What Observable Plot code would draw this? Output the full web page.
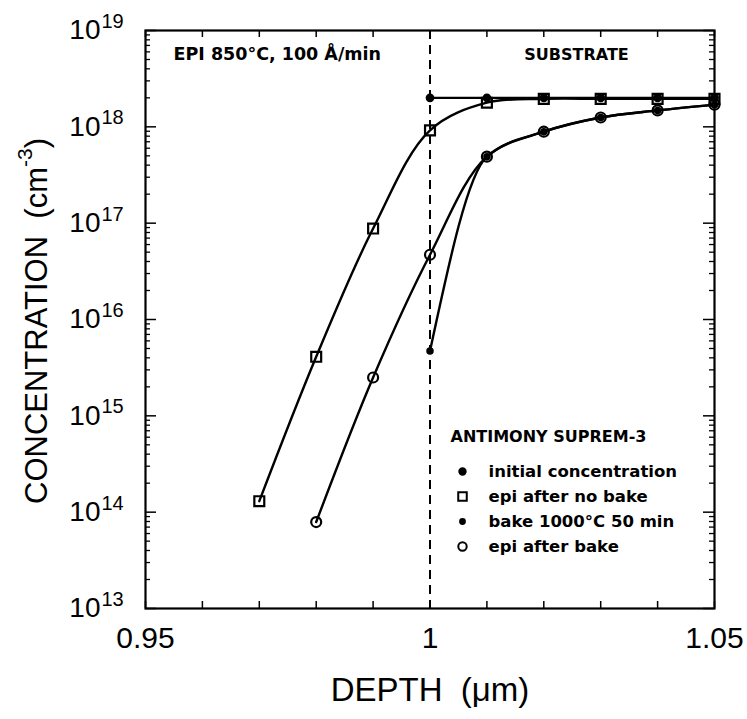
<!DOCTYPE html>
<html>
<head>
<meta charset="utf-8">
<script src="https://cdn.jsdelivr.net/npm/d3@7"></script>
<script src="https://cdn.jsdelivr.net/npm/@observablehq/plot@0.6"></script>
<style>
  body { margin: 0; background: #fff; }
  svg { display: block; }
</style>
</head>
<body>
<div id="chart"></div>
<script>
// Antimony profiles simulated with SUPREM-3 (depth in µm, concentration in cm^-3)
const initialDepth = [1.00, 1.01, 1.02, 1.03, 1.04, 1.05];
const initialConc  = [2.0e18, 2.0e18, 2.0e18, 2.0e18, 2.0e18, 2.0e18];

const noBakeDepth = [0.97, 0.98, 0.99, 1.00, 1.01, 1.02, 1.03, 1.04, 1.05];
const noBakeConc  = [1.3e14, 4.1e15, 8.8e16, 9.2e17, 1.78e18, 1.95e18, 1.95e18, 1.95e18, 1.95e18];

const bakeDepth = [1.00, 1.01, 1.02, 1.03, 1.04, 1.05];
const bakeConc  = [4.7e15, 4.9e17, 8.9e17, 1.25e18, 1.48e18, 1.7e18];

const afterBakeDepth = [0.98, 0.99, 1.00, 1.01, 1.02, 1.03, 1.04, 1.05];
const afterBakeConc  = [7.9e13, 2.5e15, 4.7e16, 4.9e17, 8.9e17, 1.25e18, 1.48e18, 1.7e18];

// Axis ticks and labels
const decades = [13, 14, 15, 16, 17, 18, 19];
const xTickLabels = [0.95, 1.00, 1.05];
const xMinorTicks = [0.95, 0.96, 0.97, 0.98, 0.99, 1.00, 1.01, 1.02, 1.03, 1.04, 1.05];
const interfaceDepth = 1.00;

const legendTitle = "ANTIMONY SUPREM-3";
const legendLabels = ["initial concentration", "epi after no bake", "bake 1000°C 50 min", "epi after bake"];
const epiLabel = "EPI 850°C, 100 Å/min";
const substrateLabel = "SUBSTRATE";

const zip = (xs, ys) => xs.map((x, i) => ({x, y: ys[i]}));
const initial = zip(initialDepth, initialConc);
const noBake = zip(noBakeDepth, noBakeConc);
const bake = zip(bakeDepth, bakeConc);
const afterBake = zip(afterBakeDepth, afterBakeConc);

const W = 747, H = 719;
const M = {top: 30, right: 33, bottom: 111, left: 145};
const plotW = W - M.left - M.right;
const plotH = H - M.top - M.bottom;

const majorY = decades.map(d => 10 ** d);
const minorY = decades.slice(0, -1).flatMap(d => d3.range(2, 10).map(k => k * 10 ** d));

const ink = "#000";
const inFont = "DejaVu Sans, sans-serif";
const axFont = "Liberation Sans, Arial, sans-serif";
const narrowFont = "Liberation Sans Narrow, Liberation Sans, sans-serif";

// legend symbols, one per row
const legendSymbols = [
  {symbol: "circle", r: 3.2, fill: ink},
  {symbol: "square", r: 4.8, fill: "none"},
  {symbol: "circle", r: 2.4, fill: ink},
  {symbol: "circle", r: 4.2, fill: "none"}
];
const rowGap = 25;
const firstRowDy = -137; // offset from the bottom of the frame

const legendMarks = legendLabels.flatMap((label, i) => {
  const dy = firstRowDy + rowGap * i;
  const s = legendSymbols[i];
  return [
    Plot.dot([label], {frameAnchor: "bottom-right", dx: -252, dy, symbol: s.symbol, r: s.r,
      fill: s.fill, stroke: ink, strokeWidth: 2}),
    Plot.text([label], {text: d => d, frameAnchor: "bottom-right", dx: -226, dy, textAnchor: "start",
      lineAnchor: "middle", fontFamily: inFont, fontWeight: "bold", fontSize: 16.5, fill: ink})
  ];
});

const chart = Plot.plot({
  width: W,
  height: H,
  marginTop: M.top,
  marginRight: M.right,
  marginBottom: M.bottom,
  marginLeft: M.left,
  style: {background: "#fff", color: ink},
  x: {domain: [0.95, 1.05]},
  y: {type: "log", domain: [1e13, 1e19]},
  marks: [
    // inward ticks on all four sides
    Plot.tickY(majorY, {y: d => d, stroke: ink, strokeWidth: 1.5, insetRight: plotW - 11}),
    Plot.tickY(minorY, {y: d => d, stroke: ink, strokeWidth: 1.3, insetRight: plotW - 5}),
    Plot.tickY(majorY, {y: d => d, stroke: ink, strokeWidth: 1.5, insetLeft: plotW - 11}),
    Plot.tickY(minorY, {y: d => d, stroke: ink, strokeWidth: 1.3, insetLeft: plotW - 5}),
    Plot.tickX(xMinorTicks, {x: d => d, stroke: ink, strokeWidth: 1.5, insetBottom: plotH - 7}),
    Plot.tickX(xMinorTicks, {x: d => d, stroke: ink, strokeWidth: 1.5, insetTop: plotH - 7}),

    // epi / substrate interface
    Plot.ruleX([interfaceDepth], {stroke: ink, strokeWidth: 2, strokeDasharray: "9,6"}),

    // profiles
    Plot.line(initial, {x: "x", y: "y", stroke: ink, strokeWidth: 2.4}),
    Plot.line(noBake, {x: "x", y: "y", stroke: ink, strokeWidth: 2.4, curve: "catmull-rom"}),
    Plot.line(bake, {x: "x", y: "y", stroke: ink, strokeWidth: 2.4, curve: "monotone-x"}),
    Plot.line(afterBake, {x: "x", y: "y", stroke: ink, strokeWidth: 2.4, curve: "catmull-rom"}),

    Plot.dot(initial, {x: "x", y: "y", r: 3.6, fill: ink, stroke: ink}),
    Plot.dot(noBake, {x: "x", y: "y", symbol: "square", r: 5.6, fill: "none", stroke: ink, strokeWidth: 2.2}),
    Plot.dot(bake, {x: "x", y: "y", r: 3, fill: ink, stroke: ink}),
    Plot.dot(afterBake, {x: "x", y: "y", r: 5, fill: "none", stroke: ink, strokeWidth: 2.2}),

    Plot.frame({stroke: ink, strokeWidth: 2.2}),

    // region labels
    Plot.text([epiLabel], {text: d => d, frameAnchor: "top-left", dx: 28, dy: 24, textAnchor: "start",
      lineAnchor: "middle", fontFamily: inFont, fontWeight: "bold", fontSize: 17.5, fill: ink,
      style: {letterSpacing: "0.7px"}}),
    Plot.text([substrateLabel], {text: d => d, frameAnchor: "top-right", dx: -138, dy: 24, textAnchor: "middle",
      lineAnchor: "middle", fontFamily: inFont, fontWeight: "bold", fontSize: 16, fill: ink}),

    // legend
    Plot.text([legendTitle], {text: d => d, frameAnchor: "bottom-right", dx: -264, dy: -172, textAnchor: "start",
      lineAnchor: "middle", fontFamily: inFont, fontWeight: "bold", fontSize: 16, fill: ink}),
    ...legendMarks,

    // axes
    Plot.axisX({anchor: "bottom", ticks: xTickLabels, tickSize: 0, tickPadding: 18,
      tickFormat: d => d === 1 ? "1" : d3.format(".2f")(d), fontSize: 30, label: null, fontFamily: axFont}),
    Plot.axisY({anchor: "left", ticks: majorY, tickSize: 0, tickPadding: 45,
      tickFormat: () => "10", fontSize: 28, label: null, fontFamily: narrowFont}),
    Plot.text(decades, {y: d => 10 ** d, text: d => String(d), frameAnchor: "left", dx: -44, dy: -9,
      textAnchor: "start", lineAnchor: "middle", fontSize: 20, fontFamily: narrowFont, fill: ink}),

    // x axis title
    Plot.text(["DEPTH  (μm)"], {text: d => d, frameAnchor: "bottom", dy: 82, lineAnchor: "middle",
      fontSize: 33, fontFamily: axFont, fill: ink})
  ]
});

// y axis title with superscript exponent
const svg = d3.select(chart);
const yTitle = svg.append("text")
  .attr("transform", `translate(36,${M.top + plotH / 2 + 2}) rotate(-90)`)
  .attr("text-anchor", "middle")
  .attr("dominant-baseline", "central")
  .attr("font-family", axFont)
  .attr("font-size", 31)
  .attr("fill", ink);
yTitle.append("tspan").text("CONCENTRATION  (cm");
yTitle.append("tspan").attr("font-size", 21).attr("dy", -12).text("-3");
yTitle.append("tspan").attr("dy", 12).text(")");

document.getElementById("chart").appendChild(chart);
</script>
</body>
</html>
